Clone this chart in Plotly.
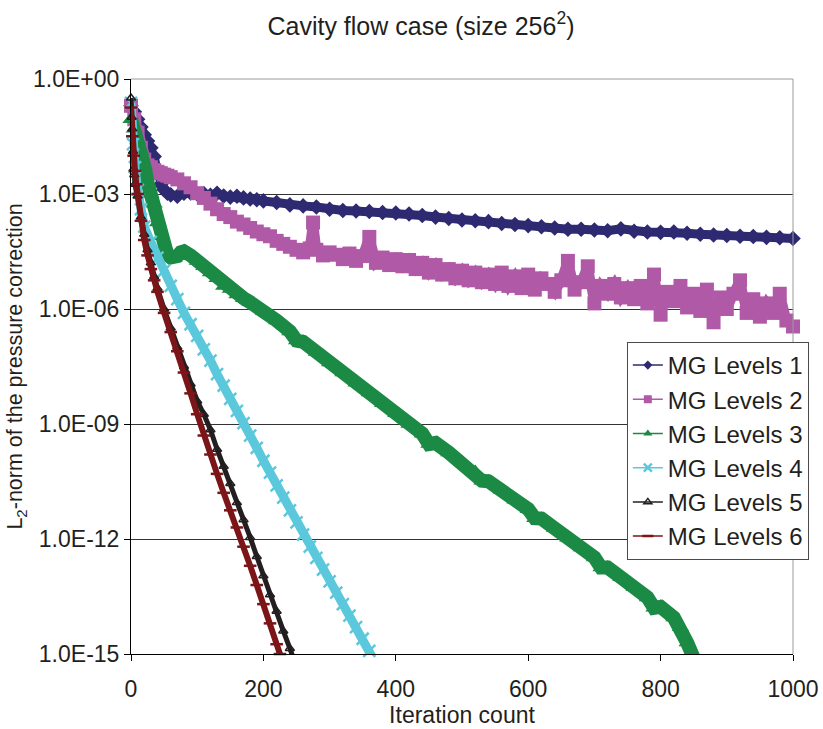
import plotly.graph_objects as go

# Residual history: L2-norm of the pressure correction vs. iteration count
# for multigrid solvers with 1..6 levels (cavity flow, 256^2 grid).

series_names = ["MG Levels 1", "MG Levels 2", "MG Levels 3",
                "MG Levels 4", "MG Levels 5", "MG Levels 6"]

x_ticks = [0, 200, 400, 600, 800, 1000]
y_tickvals = [1e0, 1e-3, 1e-6, 1e-9, 1e-12, 1e-15]
y_ticktext = ["1.0E+00", "1.0E-03", "1.0E-06", "1.0E-09", "1.0E-12", "1.0E-15"]

# MG Levels 1
it1 = [0, 5, 10, 15, 20, 25, 30, 35, 40, 45, 50, 55, 60, 70, 80, 90, 100, 110,
       120, 130, 140, 150, 160, 170, 180, 190, 200] + list(range(220, 1001, 20))
res1 = [2.0e-1, 1.4e-1, 8.9e-2, 5.6e-2, 3.5e-2, 2.4e-2, 1.6e-2, 9.5e-3, 3.5e-3,
        1.8e-3, 1.3e-3, 1.05e-3, 9.5e-4, 8.7e-4, 1.05e-3, 1.07e-3, 1.0e-3,
        1.02e-3, 9.3e-4, 1.05e-3, 8.9e-4, 8.3e-4, 8.7e-4, 7.9e-4, 7.4e-4,
        7.1e-4, 6.6e-4,
        6.0e-4, 5.2e-4, 4.9e-4, 4.6e-4, 4.0e-4, 3.7e-4, 3.6e-4, 3.5e-4, 3.3e-4,
        3.2e-4, 3.0e-4, 2.75e-4, 2.5e-4, 2.3e-4, 2.1e-4, 2.0e-4, 1.9e-4, 1.7e-4,
        1.6e-4, 1.5e-4, 1.4e-4, 1.3e-4, 1.2e-4, 1.2e-4, 1.15e-4, 1.1e-4,
        1.23e-4, 1.07e-4, 1.02e-4, 1.0e-4, 1.02e-4, 9.5e-5, 8.9e-5, 8.5e-5,
        8.3e-5, 7.9e-5, 7.8e-5, 7.4e-5, 7.2e-5, 6.9e-5]

# MG Levels 2
it2 = ([0, 5, 10, 15, 20, 25, 30, 35, 40, 45, 50, 55, 60]
       + list(range(70, 271, 10)) + [275] + list(range(280, 1001, 10)))
res2 = [2.0e-1, 8.9e-2, 4.0e-2, 1.6e-2, 7.9e-3, 5.6e-3, 5.0e-3, 4.2e-3, 3.8e-3,
        3.5e-3, 3.2e-3, 3.0e-3, 2.75e-3,
        2.4e-3, 1.9e-3, 1.5e-3, 1.05e-3, 7.9e-4, 5.6e-4, 4.0e-4, 3.0e-4, 2.5e-4,
        1.9e-4, 1.6e-4, 1.3e-4, 1.05e-4, 8.9e-5, 7.9e-5, 6.0e-5, 5.0e-5, 4.2e-5,
        3.5e-5, 3.0e-5, 3.8e-5,
        1.8e-4,
        3.5e-5, 2.5e-5, 3.0e-5, 2.6e-5, 2.0e-5, 2.8e-5, 1.8e-5, 2.4e-5, 7.6e-5,
        1.6e-5, 2.2e-5, 1.4e-5, 2.0e-5,
        1.3e-5, 1.9e-5, 1.1e-5, 1.6e-5, 8.9e-6,
        1.4e-5, 7.9e-6, 1.1e-5, 6.3e-6, 1.0e-5,
        5.6e-6, 8.9e-6, 5.0e-6, 7.9e-6, 4.5e-6,
        8.9e-6, 4.0e-6, 7.1e-6, 3.5e-6, 7.9e-6,
        3.2e-6, 6.3e-6, 4.5e-6, 2.8e-6, 5.6e-6,
        1.8e-5, 3.2e-6, 5.0e-6, 1.3e-5, 1.4e-6,
        4.0e-6, 2.5e-6, 4.5e-6, 2.0e-6, 3.5e-6,
        1.8e-6, 4.0e-6, 1.4e-6, 7.9e-6, 7.1e-7,
        2.8e-6, 1.6e-6, 4.0e-6, 1.1e-6, 2.5e-6,
        8.9e-7, 3.2e-6, 4.5e-7, 2.0e-6, 1.0e-6,
        2.5e-6, 5.6e-6, 7.9e-7, 1.8e-6, 6.3e-7,
        1.4e-6, 7.9e-7, 2.5e-6, 5.0e-7, 3.5e-7]

# MG Levels 3
it3 = [0, 5, 10, 15, 20, 25, 30, 35, 40, 45, 50, 55, 60, 65, 70, 75, 80,
       90, 100, 110, 120, 130, 140, 150, 160, 170, 180, 190, 200,
       220, 240, 250, 260, 280, 300, 320, 340, 360, 380, 400, 420, 440, 450,
       460, 480, 500, 520, 530, 540, 560, 580, 600, 610, 620, 640, 660, 680,
       700, 710, 720, 740, 760, 780, 790, 800, 820, 830, 840, 850]
res3 = [8.9e-2, 5.0e-2, 2.5e-2, 1.3e-2, 5.6e-3, 2.0e-3, 1.0e-3, 5.6e-4, 1.8e-4,
        7.9e-5, 4.0e-5, 2.6e-5, 2.2e-5, 2.1e-5, 2.4e-5, 3.0e-5, 3.2e-5,
        2.5e-5, 1.8e-5, 1.3e-5, 8.9e-6, 6.3e-6, 4.0e-6, 3.3e-6, 2.4e-6, 1.9e-6,
        1.5e-6, 1.2e-6, 8.9e-7,
        5.0e-7, 2.6e-7, 1.5e-7, 1.4e-7, 7.6e-8, 4.0e-8, 2.2e-8, 1.2e-8, 6.6e-9,
        3.5e-9, 1.9e-9, 1.0e-9, 5.6e-10, 3.0e-10,
        3.2e-10, 1.8e-10, 1.0e-10, 5.6e-11, 3.3e-11, 3.2e-11, 1.9e-11, 1.05e-11,
        6.0e-12, 3.5e-12, 3.4e-12, 1.9e-12, 1.07e-12, 6.0e-13,
        3.3e-13, 1.8e-13, 1.8e-13, 1.0e-13, 5.5e-14, 3.0e-14, 1.6e-14, 1.7e-14,
        8.9e-15, 5.0e-15, 2.0e-15, 7.9e-16]

# MG Levels 4
it4 = [0, 3, 6, 10, 15, 20] + list(range(30, 361, 10)) + [365]
res4 = [2.4e-1, 2.0e-2, 5.0e-3, 1.3e-3, 4.0e-4, 1.4e-4,
        5.6e-5, 2.2e-5, 1.0e-5, 4.0e-6, 1.8e-6, 7.9e-7, 4.0e-7, 2.0e-7,
        8.9e-8, 4.5e-8, 2.0e-8, 1.0e-8, 4.5e-9, 2.2e-9, 1.05e-9, 5.0e-10,
        2.4e-10, 1.1e-10, 5.4e-11, 2.5e-11, 1.2e-11, 5.6e-12, 2.7e-12, 1.3e-12,
        6.3e-13, 3.2e-13, 1.6e-13, 7.9e-14, 4.0e-14, 2.0e-14, 1.0e-14, 5.0e-15,
        2.5e-15, 1.2e-15, 7.9e-16]

# MG Levels 5
it5 = [0, 1, 2, 3, 4, 5, 6, 10, 15, 20, 25, 30, 35, 40] + list(range(50, 241, 10)) + [245]
res5 = [3.2e-1, 1.0e-1, 5.0e-2, 1.3e-2, 4.5e-3, 3.2e-3, 1.8e-3, 8.9e-4, 2.5e-4,
        8.9e-5, 3.5e-5, 1.6e-5, 7.1e-6, 3.5e-6,
        1.0e-6, 3.2e-7, 1.0e-7, 3.2e-8, 1.1e-8, 4.0e-9, 1.8e-9, 7.1e-10,
        2.2e-10, 7.9e-11, 2.8e-11, 8.9e-12, 3.2e-12, 1.1e-12, 3.5e-13, 1.1e-13,
        3.5e-14, 1.3e-14, 4.0e-15, 1.4e-15, 7.9e-16]

# MG Levels 6
it6 = [0, 2, 4, 6, 8, 10, 15, 20, 25, 30, 35, 40] + list(range(50, 221, 10)) + [225]
res6 = [1.8e-1, 3.2e-2, 1.0e-2, 4.0e-3, 1.8e-3, 1.0e-3, 2.0e-4, 6.3e-5, 2.5e-5,
        1.1e-5, 5.6e-6, 2.8e-6,
        7.9e-7, 2.5e-7, 7.9e-8, 2.2e-8, 6.3e-9, 1.8e-9, 5.0e-10, 1.6e-10,
        5.0e-11, 1.6e-11, 5.6e-12, 2.0e-12, 6.3e-13, 2.0e-13, 6.3e-14, 2.0e-14,
        6.3e-15, 1.8e-15, 1.0e-15]

iters = [it1, it2, it3, it4, it5, it6]
residuals = [res1, res2, res3, res4, res5, res6]
for xs, ys in zip(iters, residuals):
    assert len(xs) == len(ys)

colors = ["#2E2A72", "#B05AA7", "#1B8A45", "#5BC8DC", "#231F20", "#7B1518"]
symbols = ["diamond", "square", "triangle-up", "x-thin", "triangle-up-open", "line-ew"]
band_width = [9, 10, 14, 9, 5, 6]
marker_size = [12, 14, 15, 12, 8, 9]
legend_marker_size = [7, 8, 8, 8, 7, 8]

FONT = "Liberation Sans, Arial, sans-serif"
TEXT = "#231F20"

fig = go.Figure()


def marker_style(i, size):
    sym = symbols[i]
    if sym in ("x-thin", "line-ew"):
        return dict(symbol=sym, size=size, color=colors[i],
                    line=dict(color=colors[i], width=2.5))
    if sym.endswith("-open"):
        return dict(symbol=sym, size=size, color=colors[i],
                    line=dict(color=colors[i], width=1.5))
    return dict(symbol=sym, size=size, color=colors[i], line=dict(width=0))


# data bands
for i in range(6):
    fig.add_trace(go.Scatter(
        x=iters[i], y=residuals[i], mode="lines+markers",
        line=dict(color=colors[i], width=band_width[i]),
        marker=marker_style(i, marker_size[i]),
        cliponaxis=False, showlegend=False, name=series_names[i],
    ))

# legend entries with thin sample lines
for i in range(6):
    fig.add_trace(go.Scatter(
        x=[None], y=[None], mode="lines+markers", name=series_names[i],
        line=dict(color=colors[i], width=1.5),
        marker=marker_style(i, legend_marker_size[i]),
    ))

# gray frame on top and right edges of the plotting area
fig.add_shape(type="line", xref="x domain", yref="y domain",
              x0=0, x1=1, y0=1, y1=1, line=dict(color="#9A9A9A", width=1))
fig.add_shape(type="line", xref="x domain", yref="y domain",
              x0=1, x1=1, y0=0, y1=1, line=dict(color="#9A9A9A", width=1))

fig.update_layout(
    width=823, height=729,
    margin=dict(l=131, r=30, t=79, b=75, autoexpand=False),
    paper_bgcolor="white", plot_bgcolor="white",
    font=dict(family=FONT, color=TEXT, size=23),
    title=dict(text="Cavity flow case (size 256<sup>2</sup>)",
               x=0.5115, xanchor="center", y=0.964, yanchor="middle",
               font=dict(size=25, family=FONT, color=TEXT)),
    xaxis=dict(
        range=[0, 1000], tickvals=x_ticks, ticktext=[str(v) for v in x_ticks],
        showgrid=False, zeroline=False, showline=True, linecolor="black",
        linewidth=1, ticks="outside", ticklen=6, tickcolor="black",
        ticklabelstandoff=8, automargin=False,
        tickfont=dict(size=23), title=dict(text="Iteration count",
                                           font=dict(size=23), standoff=0),
    ),
    yaxis=dict(
        type="log", range=[-15, 0], tickvals=y_tickvals, ticktext=y_ticktext,
        showgrid=True, gridcolor="#333333", gridwidth=1, zeroline=False,
        showline=True, linecolor="black", linewidth=1, ticks="outside",
        ticklen=6, tickcolor="black", tickfont=dict(size=23), automargin=False,
        title=dict(text="L<sub>2</sub>-norm of the pressure correction",
                   font=dict(size=21.5), standoff=4),
    ),
    legend=dict(
        x=0.749, y=0.5426, xanchor="left", yanchor="top",
        bgcolor="white", bordercolor="#4A4A4A", borderwidth=1,
        font=dict(size=24, family=FONT, color=TEXT),
        tracegroupgap=0, itemsizing="trace",
    ),
)

fig.write_html("out.html")
